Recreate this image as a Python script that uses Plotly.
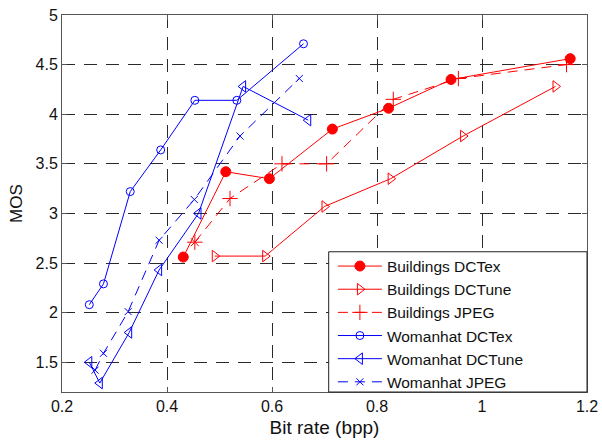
import plotly.graph_objects as go

# ---- data ----
bld_dctex_x = [0.431, 0.512, 0.595, 0.715, 0.822, 0.941, 1.168]
bld_dctex_y = [2.56, 3.42, 3.35, 3.85, 4.06, 4.35, 4.56]

bld_dctune_x = [0.491, 0.587, 0.700, 0.826, 0.964, 1.140]
bld_dctune_y = [2.57, 2.57, 3.07, 3.35, 3.78, 4.28]

bld_jpeg_x = [0.453, 0.520, 0.619, 0.704, 0.831, 0.955, 1.161]
bld_jpeg_y = [2.71, 3.15, 3.50, 3.50, 4.15, 4.36, 4.50]

wh_dctex_x = [0.252, 0.279, 0.330, 0.388, 0.453, 0.533, 0.660]
wh_dctex_y = [2.08, 2.29, 3.22, 3.64, 4.14, 4.14, 4.71]

wh_dctune_x = [0.252, 0.272, 0.328, 0.385, 0.460, 0.545, 0.669]
wh_dctune_y = [1.50, 1.29, 1.80, 2.43, 3.00, 4.28, 3.94]

wh_jpeg_x = [0.263, 0.279, 0.326, 0.385, 0.452, 0.539, 0.652]
wh_jpeg_y = [1.42, 1.59, 2.01, 2.73, 3.14, 3.78, 4.36]

x_ticks = [0.2, 0.4, 0.6, 0.8, 1.0, 1.2]
x_labels = ["0.2", "0.4", "0.6", "0.8", "1", "1.2"]
y_ticks = [1.5, 2, 2.5, 3, 3.5, 4, 4.5, 5]
y_labels = ["1.5", "2", "2.5", "3", "3.5", "4", "4.5", "5"]

RED = "#ff0000"
BLUE = "#0000ff"
FONT = "Liberation Sans, Arial, sans-serif"
TXT = "#111111"

fig = go.Figure()

def add(name, xs, ys, color, symbol, size, dash="solid"):
    fig.add_trace(go.Scatter(
        x=xs, y=ys, name=name, mode="lines+markers",
        line=dict(color=color, width=1, dash=dash),
        marker=dict(symbol=symbol, size=size, color=color,
                    line=dict(color=color, width=1)),
    ))

add("Buildings DCTex", bld_dctex_x, bld_dctex_y, RED, "circle", 10)
add("Buildings DCTune", bld_dctune_x, bld_dctune_y, RED, "triangle-right-open", 10)
add("Buildings JPEG", bld_jpeg_x, bld_jpeg_y, RED, "cross-thin-open", 11, dash="10px,7px")
# the first Buildings JPEG point shows as an asterisk in the reference ('+' overlaid with 'x')
fig.add_trace(go.Scatter(
    x=bld_jpeg_x[:1], y=bld_jpeg_y[:1], mode="markers", showlegend=False,
    marker=dict(symbol="x-thin-open", size=8, color=RED, line=dict(color=RED, width=1)),
))
add("Womanhat DCTex", wh_dctex_x, wh_dctex_y, BLUE, "circle-open", 8)
add("Womanhat DCTune", wh_dctune_x, wh_dctune_y, BLUE, "triangle-left-open", 10)
add("Womanhat JPEG", wh_jpeg_x, wh_jpeg_y, BLUE, "x-thin-open", 7, dash="10px,7px")

axis_common = dict(
    showline=True, linecolor="#555555", linewidth=1, mirror="ticks",
    ticks="inside", ticklen=5, tickcolor="#555555",
    showgrid=True, gridcolor="#2a2a2a", gridwidth=1.3, griddash="13px,9px",
    zeroline=False,
    tickfont=dict(family=FONT, size=16, color=TXT),
)

fig.update_xaxes(range=[0.2, 1.2], tickvals=x_ticks, ticktext=x_labels,
                 title=dict(text="Bit rate (bpp)", font=dict(family=FONT, size=19, color=TXT), standoff=6),
                 **axis_common)
fig.update_yaxes(range=[1.2, 5], tickvals=y_ticks, ticktext=y_labels,
                 title=dict(text="MOS", font=dict(family=FONT, size=17, color=TXT), standoff=8),
                 **axis_common)

# white legend panel with black border
fig.add_shape(type="rect", xref="paper", yref="paper",
              x0=0.508, x1=1.0, y0=0.0, y1=0.372,
              fillcolor="white", line=dict(color="#222222", width=1), layer="above")

fig.update_layout(
    width=602, height=443,
    margin=dict(l=62, r=15, t=15, b=51, autoexpand=False),
    plot_bgcolor="white", paper_bgcolor="white",
    showlegend=True,
    legend=dict(x=0.516, y=0.378, xanchor="left", yanchor="top",
                bgcolor="rgba(0,0,0,0)", borderwidth=0,
                font=dict(family=FONT, size=15.5, color=TXT),
                itemwidth=44, traceorder="normal"),
)

fig.write_html("out.html", config={"displayModeBar": False},
               post_script="document.body.style.margin='0';")
